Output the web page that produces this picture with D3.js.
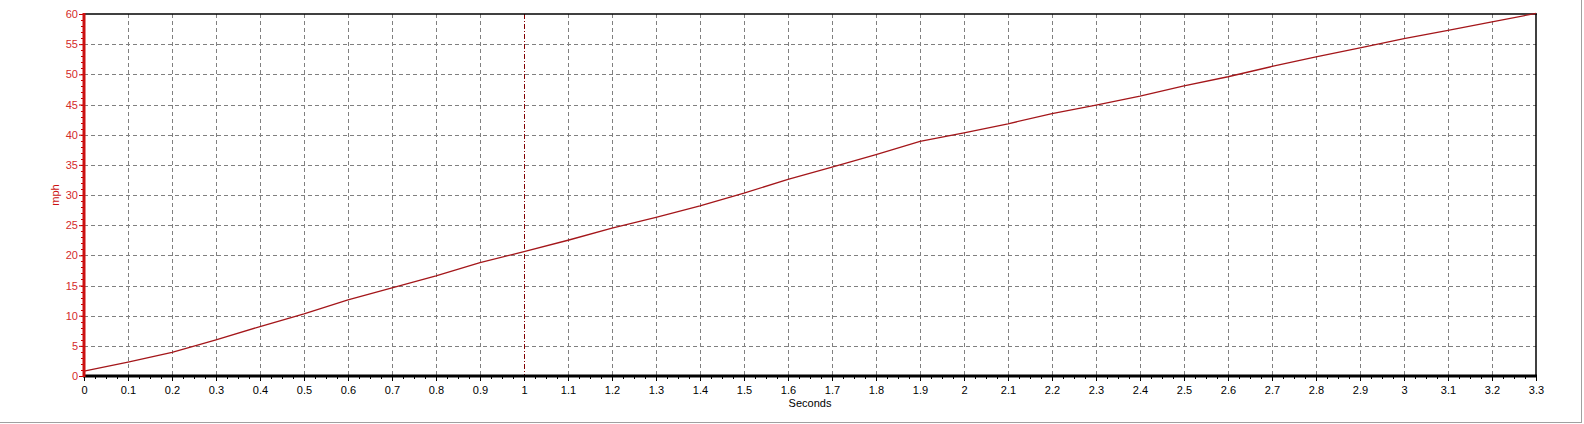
<!DOCTYPE html>
<html><head><meta charset="utf-8">
<script src="https://cdn.jsdelivr.net/npm/d3@7"></script>
<style>
html,body{margin:0;padding:0;background:#fff;}
svg{display:block;font-family:"Liberation Sans",Arial,sans-serif;}
</style></head>
<body>
<svg id="c" width="1584" height="424"></svg>
<script>
const times = [0,0.1,0.2,0.3,0.4,0.5,0.6,0.7,0.8,0.9,1.0,1.1,1.2,1.3,1.4,1.5,1.6,1.7,1.8,1.9,2.0,2.1,2.2,2.3,2.4,2.5,2.6,2.7,2.8,2.9,3.0,3.1,3.2,3.3];
const mph = [0.8,2.3,3.9,6.0,8.2,10.3,12.6,14.6,16.6,18.8,20.6,22.5,24.5,26.3,28.2,30.3,32.6,34.6,36.7,38.9,40.3,41.8,43.5,44.9,46.4,48.1,49.6,51.3,52.9,54.4,55.9,57.3,58.7,60.1];
const xTicks = [0,0.1,0.2,0.3,0.4,0.5,0.6,0.7,0.8,0.9,1,1.1,1.2,1.3,1.4,1.5,1.6,1.7,1.8,1.9,2,2.1,2.2,2.3,2.4,2.5,2.6,2.7,2.8,2.9,3,3.1,3.2,3.3];
const yTicks = [0,5,10,15,20,25,30,35,40,45,50,55,60];
const markerTime = [1];
const xLabel = "Seconds", yLabel = "mph";

const svg = d3.select("#c");
const L=84, R=1536, T=14, B=376;
const x = d3.scaleLinear().domain([0,3.3]).range([L,R]);
const y = d3.scaleLinear().domain([0,60]).range([B,T]);

// outer window border
svg.append("line").attr("x1",0).attr("x2",1582).attr("y1",422.5).attr("y2",422.5).attr("stroke","#a0a0a0");
svg.append("line").attr("x1",1581.5).attr("x2",1581.5).attr("y1",0).attr("y2",423).attr("stroke","#a0a0a0");

// grid
const g = svg.append("g");
g.selectAll("line.vg").data(xTicks.filter(d=>d>0&&d<3.3&&d!==1)).join("line")
  .attr("x1",d=>Math.round(x(d))+0.5).attr("x2",d=>Math.round(x(d))+0.5)
  .attr("y1",T).attr("y2",B).attr("stroke","#808080").attr("stroke-dasharray","4,3");
g.selectAll("line.hg").data(yTicks.filter(d=>d>0&&d<60)).join("line")
  .attr("y1",d=>Math.round(y(d))+0.5).attr("y2",d=>Math.round(y(d))+0.5)
  .attr("x1",L).attr("x2",R).attr("stroke","#808080").attr("stroke-dasharray","4,3");

// marker at t=1
svg.selectAll("line.mk").data(markerTime).join("line")
  .attr("x1",d=>Math.round(x(d))+0.5).attr("x2",d=>Math.round(x(d))+0.5)
  .attr("y1",T).attr("y2",B).attr("stroke","#800000").attr("stroke-width",1)
  .attr("stroke-dasharray","5,2,1,2");

// top & right border
svg.append("line").attr("x1",L).attr("x2",R+1).attr("y1",T).attr("y2",T).attr("stroke","#000").attr("stroke-width",1.5);
svg.append("line").attr("x1",R).attr("x2",R).attr("y1",T).attr("y2",B).attr("stroke","#000").attr("stroke-width",1.5);

// data line
svg.append("path").datum(times.map((t,i)=>[t,mph[i]]))
  .attr("d", d3.line().x(d=>x(d[0])).y(d=>y(Math.min(d[1],60.1))))
  .attr("fill","none").attr("stroke","#a4161a").attr("stroke-width",1.3);

// x axis
const minorX = d3.range(0,133).map(i=>i*0.025);
svg.selectAll("line.mx").data(minorX).join("line")
  .attr("x1",d=>Math.round(x(d))+0.5).attr("x2",d=>Math.round(x(d))+0.5)
  .attr("y1",B).attr("y2",B+3).attr("stroke","#000");
const xa = svg.append("g").attr("transform",`translate(0,${B})`)
  .call(d3.axisBottom(x).tickValues(xTicks).tickFormat(d3.format("~g")).tickSize(5).tickSizeOuter(0));
xa.select(".domain").remove();
xa.selectAll(".tick line").attr("stroke","#000");
xa.selectAll(".tick text").attr("font-size",11).attr("fill","#000").attr("dy","0.71em").attr("y",10);
svg.append("line").attr("x1",L-1).attr("x2",R+1).attr("y1",B).attr("y2",B).attr("stroke","#000").attr("stroke-width",3);
svg.append("text").attr("x",(L+R)/2).attr("y",407).attr("text-anchor","middle")
  .attr("font-size",11).attr("fill","#000").text(xLabel);

// y axis
const minorY = d3.range(0,61);
svg.selectAll("line.my").data(minorY).join("line")
  .attr("y1",d=>Math.round(y(d))+0.5).attr("y2",d=>Math.round(y(d))+0.5)
  .attr("x1",L-3).attr("x2",L).attr("stroke","#cc0000");
const ya = svg.append("g").attr("transform",`translate(${L},0)`)
  .call(d3.axisLeft(y).tickValues(yTicks).tickSize(5).tickSizeOuter(0));
ya.select(".domain").remove();
ya.selectAll(".tick line").attr("stroke","#cc0000");
ya.selectAll(".tick text").attr("font-size",11).attr("fill","#d42a2a").attr("x",-6);
svg.append("line").attr("x1",L).attr("x2",L).attr("y1",T-1).attr("y2",B+1).attr("stroke","#cc1111").attr("stroke-width",3);
svg.append("text").attr("transform",`translate(59,${(T+B)/2}) rotate(-90)`).attr("text-anchor","middle")
  .attr("font-size",11).attr("fill","#cc1111").text(yLabel);
</script>
</body></html>
